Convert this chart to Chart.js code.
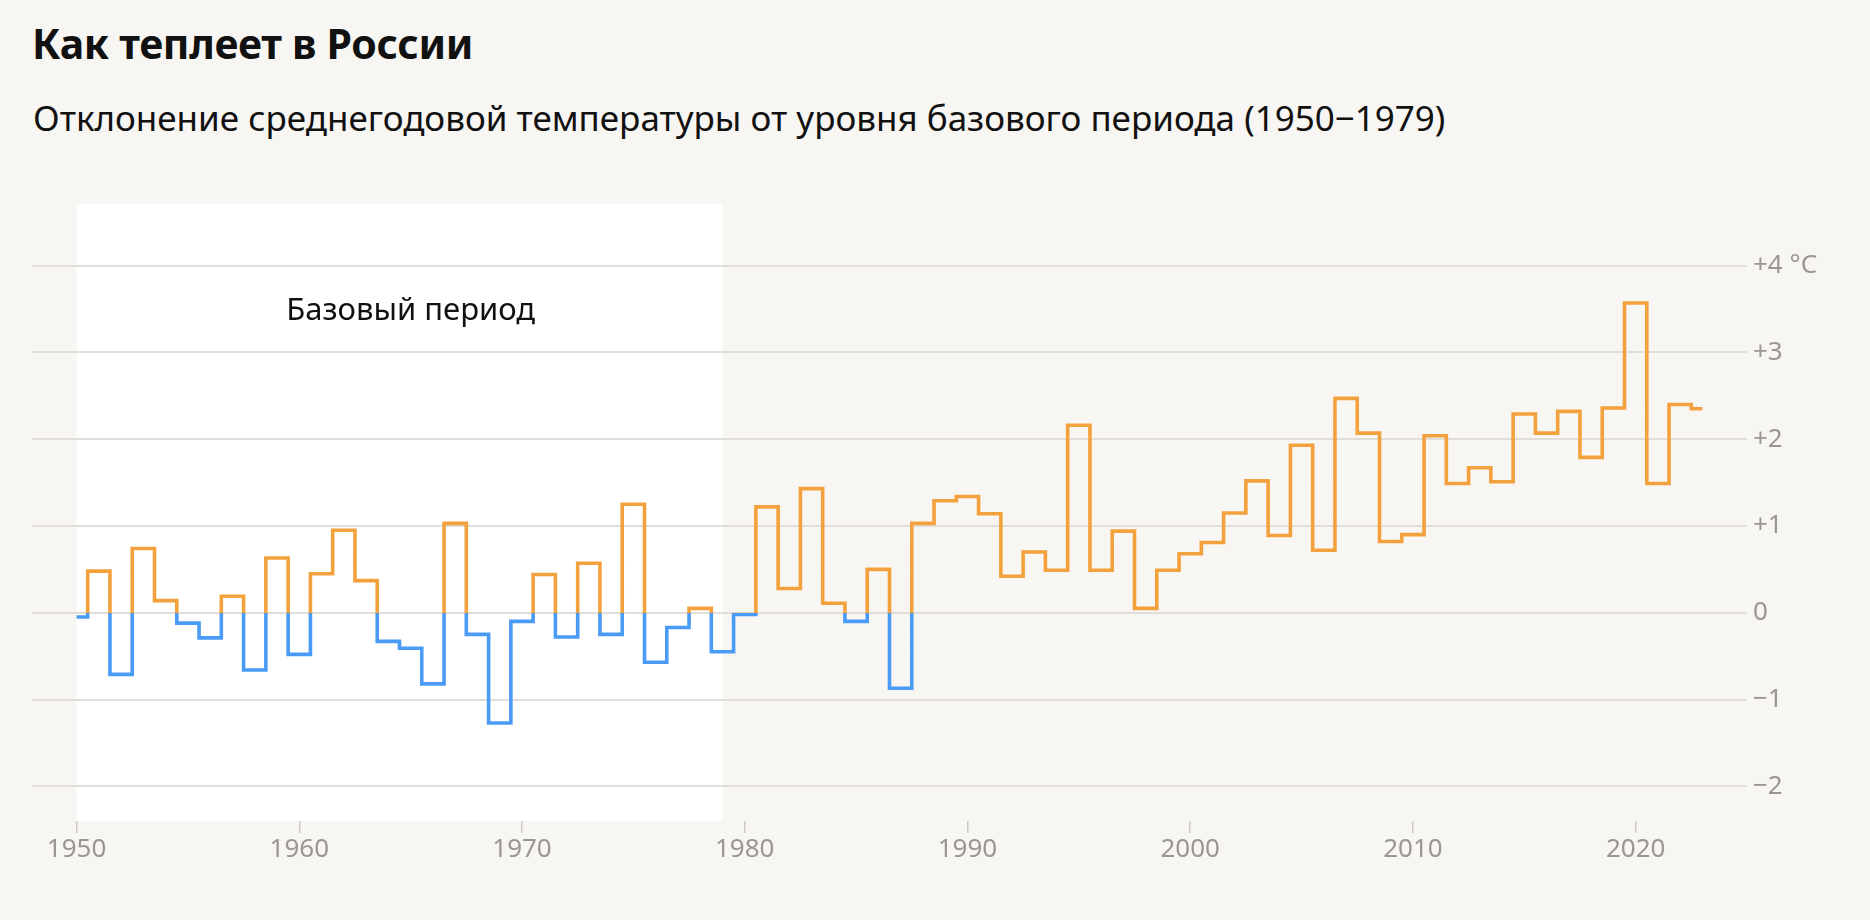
<!DOCTYPE html>
<html lang="ru">
<head>
<meta charset="utf-8">
<title>Как теплеет в России</title>
<script src="https://cdn.jsdelivr.net/npm/chart.js@4"></script>
<style>
  html, body { margin: 0; padding: 0; background: #f8f6f3; }
  body { width: 1870px; height: 920px; position: relative; overflow: hidden; font-family: "Noto Sans", sans-serif; color: #111; }
  .title { position: absolute; left: 32px; top: 23px; font-size: 41px; line-height: 41px; font-weight: 700; white-space: nowrap; letter-spacing: -0.3px; }
  .subtitle { position: absolute; left: 33px; top: 100px; font-size: 35px; line-height: 35px; white-space: nowrap; }
  #chart { position: absolute; left: 0; top: 0; }
</style>
</head>
<body>
<div class="title">Как теплеет в России</div>
<div class="subtitle">Отклонение среднегодовой температуры от уровня базового периода (1950−1979)</div>
<canvas id="chart" width="1870" height="920"></canvas>
<script>
// годы и отклонения, °C
var years = [
  1950, 1951, 1952, 1953, 1954, 1955, 1956, 1957, 1958, 1959,
  1960, 1961, 1962, 1963, 1964, 1965, 1966, 1967, 1968, 1969,
  1970, 1971, 1972, 1973, 1974, 1975, 1976, 1977, 1978, 1979,
  1980, 1981, 1982, 1983, 1984, 1985, 1986, 1987, 1988, 1989,
  1990, 1991, 1992, 1993, 1994, 1995, 1996, 1997, 1998, 1999,
  2000, 2001, 2002, 2003, 2004, 2005, 2006, 2007, 2008, 2009,
  2010, 2011, 2012, 2013, 2014, 2015, 2016, 2017, 2018, 2019,
  2020, 2021, 2022, 2023
];
var anomalies = [
  -0.05, 0.48, -0.71, 0.74, 0.14, -0.12, -0.29, 0.19, -0.66, 0.63,
  -0.48, 0.45, 0.95, 0.37, -0.33, -0.41, -0.82, 1.03, -0.25, -1.27,
  -0.10, 0.44, -0.28, 0.57, -0.25, 1.25, -0.57, -0.17, 0.05, -0.45,
  -0.02, 1.22, 0.28, 1.43, 0.11, -0.10, 0.50, -0.87, 1.03, 1.29,
  1.34, 1.14, 0.42, 0.70, 0.49, 2.16, 0.49, 0.94, 0.05, 0.49,
  0.68, 0.81, 1.15, 1.52, 0.89, 1.93, 0.72, 2.47, 2.07, 0.82,
  0.90, 2.04, 1.49, 1.67, 1.51, 2.29, 2.07, 2.32, 1.79, 2.36,
  3.57, 1.49, 2.40, 2.35
];
var xTicks = [1950, 1960, 1970, 1980, 1990, 2000, 2010, 2020];
var yTicks = [-2, -1, 0, 1, 2, 3, 4];
var basePeriod = [1950, 1979];
var baseLabel = 'Базовый период';

var warm = '#f3a13c';
var cold = '#4a9bf6';
var font = '"Noto Sans", sans-serif';

function lineColor(context) {
  var chart = context.chart;
  var area = chart.chartArea;
  if (!area) return warm;
  var zero = chart.scales.y.getPixelForValue(0);
  var stop = (zero - area.top) / (area.bottom - area.top);
  stop = Math.min(1, Math.max(0, stop));
  var g = chart.ctx.createLinearGradient(0, area.top, 0, area.bottom);
  g.addColorStop(0, warm);
  g.addColorStop(stop, warm);
  g.addColorStop(stop, cold);
  g.addColorStop(1, cold);
  return g;
}

var baseBox = {
  id: 'baseBox',
  beforeDraw: function (chart) {
    var ctx = chart.ctx, area = chart.chartArea, x = chart.scales.x, y = chart.scales.y;
    var left = x.getPixelForValue(basePeriod[0]);
    var right = x.getPixelForValue(basePeriod[1]);
    ctx.save();
    ctx.fillStyle = '#ffffff';
    ctx.fillRect(left, area.top, right - left, area.bottom - area.top);
    ctx.fillStyle = '#111111';
    ctx.font = '31px ' + font;
    ctx.textAlign = 'center';
    ctx.textBaseline = 'middle';
    ctx.fillText(baseLabel, x.getPixelForValue((basePeriod[0] + basePeriod[1] + 1) / 2), y.getPixelForValue(3.47));
    ctx.restore();
  }
};

var points = years.map(function (yr, i) { return { x: yr, y: anomalies[i] }; });

new Chart(document.getElementById('chart'), {
  type: 'line',
  plugins: [baseBox],
  data: {
    datasets: [{
      data: points,
      stepped: 'middle',
      borderColor: lineColor,
      borderWidth: 3.6,
      borderJoinStyle: 'miter',
      borderCapStyle: 'butt',
      pointRadius: 0,
      fill: false
    }]
  },
  options: {
    responsive: false,
    animation: false,
    layout: { padding: { left: 32, top: 204, right: 0, bottom: 0 } },
    plugins: { legend: { display: false }, tooltip: { enabled: false } },
    scales: {
      x: {
        type: 'linear',
        min: 1948,
        max: 2025,
        afterBuildTicks: function (scale) { scale.ticks = xTicks.map(function (v) { return { value: v }; }); },
        afterFit: function (scale) { scale.height = 99; },
        grid: { drawOnChartArea: false, drawTicks: true, tickLength: 12, color: '#cdcac5', lineWidth: 1.5 },
        border: { display: false },
        ticks: {
          padding: 1,
          color: '#9a9691',
          font: { family: font, size: 26 },
          maxRotation: 0,
          callback: function (v) { return String(v); }
        }
      },
      y: {
        position: 'right',
        min: -2.4,
        max: 4.71,
        afterBuildTicks: function (scale) { scale.ticks = yTicks.map(function (v) { return { value: v }; }); },
        afterFit: function (scale) { scale.width = 123; },
        grid: { drawTicks: false, color: '#e1deda', lineWidth: 2 },
        border: { display: false },
        ticks: {
          padding: 6,
          color: '#9a9691',
          font: { family: font, size: 26 },
          callback: function (v) {
            if (v === 4) return '+4 °C';
            if (v > 0) return '+' + v;
            if (v < 0) return '−' + Math.abs(v);
            return '0';
          }
        }
      }
    }
  }
});
</script>
</body>
</html>
